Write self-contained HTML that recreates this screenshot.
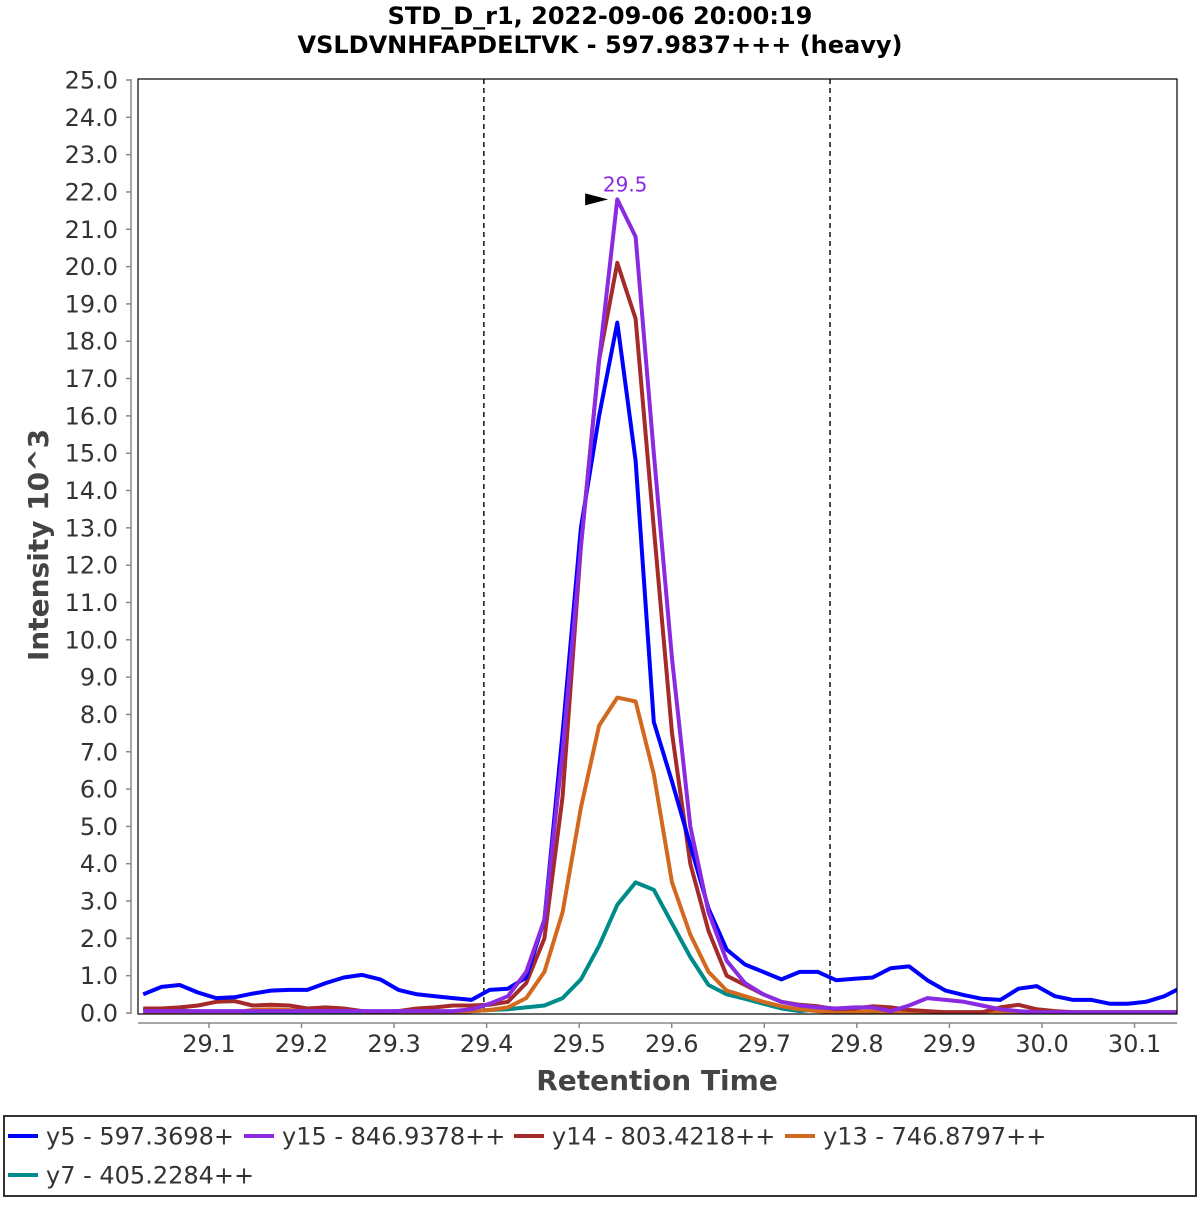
<!DOCTYPE html>
<html><head><meta charset="utf-8"><style>
body{margin:0;background:#fff;}
svg text{font-family:"DejaVu Sans","Liberation Sans",sans-serif;}
</style></head><body>
<svg id="chart" width="1200" height="1200" xmlns="http://www.w3.org/2000/svg">
<rect width="1200" height="1200" fill="#fff"/>
<text x="600" y="24" text-anchor="middle" font-size="24" font-weight="bold" fill="#000">STD_D_r1, 2022-09-06 20:00:19</text>
<text x="600" y="53" text-anchor="middle" font-size="24" font-weight="bold" fill="#000">VSLDVNHFAPDELTVK - 597.9837+++ (heavy)</text>
<g id="grid"></g>
<g id="series" clip-path="url(#clip)"></g>
<defs><clipPath id="clip"><rect x="138" y="70" width="1039" height="944"/></clipPath></defs>
<rect x="138" y="79" width="1039" height="935" fill="none" stroke="#000" stroke-width="1.2"/>
<g id="axes"></g>
<text transform="translate(48,545) rotate(-90)" text-anchor="middle" font-size="28" font-weight="bold" fill="#444">Intensity 10^3</text>
<text x="657" y="1090" text-anchor="middle" font-size="28" font-weight="bold" fill="#444">Retention Time</text>
<g id="legend">
<rect x="4" y="1116" width="1192" height="80" fill="#fff" stroke="#333" stroke-width="2"/>
</g>
</svg>
<script>
const t0 = 29.029;
const dt = 0.0197;
const xTicks = [29.1,29.2,29.3,29.4,29.5,29.6,29.7,29.8,29.9,30.0,30.1];
const yTicks = [0,1,2,3,4,5,6,7,8,9,10,11,12,13,14,15,16,17,18,19,20,21,22,23,24,25];
const boundaries = [29.397, 29.771];
const peakTime = 29.541;
const peakValue = 21.8;
const peakLabel = "29.5";
const y5 = [0.5,0.7,0.75,0.55,0.4,0.42,0.52,0.6,0.62,0.62,0.8,0.95,1.02,0.9,0.62,0.5,0.45,0.4,0.35,0.62,0.65,0.95,2.5,7.5,13.0,16.0,18.5,14.8,7.8,6.2,4.5,2.8,1.7,1.3,1.1,0.9,1.1,1.1,0.88,0.92,0.95,1.2,1.25,0.88,0.6,0.48,0.38,0.35,0.65,0.72,0.45,0.35,0.35,0.25,0.25,0.3,0.45,0.7];
const y15 = [0.05,0.05,0.05,0.05,0.05,0.05,0.05,0.05,0.05,0.05,0.05,0.05,0.05,0.05,0.05,0.05,0.05,0.05,0.1,0.25,0.45,1.1,2.5,7.0,12.5,17.5,21.8,20.8,15.0,9.5,5.0,2.7,1.4,0.8,0.5,0.3,0.2,0.15,0.12,0.15,0.15,0.05,0.2,0.4,0.35,0.3,0.2,0.1,0.05,0.02,0.02,0.02,0.02,0.02,0.02,0.02,0.02,0.02];
const y14 = [0.12,0.12,0.15,0.2,0.3,0.32,0.2,0.22,0.2,0.12,0.15,0.12,0.05,0.03,0.05,0.12,0.15,0.2,0.2,0.22,0.3,0.8,2.0,5.8,12.5,17.5,20.1,18.6,13.0,7.5,4.0,2.2,1.0,0.75,0.5,0.3,0.22,0.18,0.1,0.12,0.18,0.15,0.08,0.05,0.02,0.02,0.02,0.15,0.22,0.1,0.05,0.02,0.02,0.02,0.02,0.02,0.02,0.02];
const y13 = [0.02,0.02,0.02,0.02,0.02,0.02,0.08,0.1,0.08,0.05,0.05,0.08,0.05,0.02,0.02,0.02,0.02,0.02,0.05,0.08,0.15,0.4,1.1,2.7,5.5,7.7,8.45,8.35,6.4,3.5,2.1,1.1,0.6,0.45,0.3,0.18,0.1,0.05,0.02,0.02,0.05,0.02,0.02,0.02,0.02,0.02,0.02,0.02,0.02,0.02,0.02,0.02,0.02,0.02,0.02,0.02,0.02,0.02];
const y7 = [0.08,0.12,0.08,0.02,0.02,0.02,0.02,0.02,0.02,0.02,0.02,0.02,0.02,0.02,0.02,0.02,0.02,0.02,0.05,0.08,0.1,0.15,0.2,0.4,0.9,1.8,2.9,3.5,3.3,2.4,1.5,0.75,0.5,0.38,0.25,0.12,0.05,0.1,0.12,0.02,0.02,0.02,0.02,0.02,0.02,0.02,0.02,0.02,0.02,0.02,0.02,0.02,0.02,0.02,0.02,0.02,0.02,0.02];
const seriesNames = ["y5 - 597.3698+","y15 - 846.9378++","y14 - 803.4218++","y13 - 746.8797++","y7 - 405.2284++"];
const seriesColors = ["#0000ff","#8a2be2","#a52a2a","#d2691e","#008b8b"];

const NS = "http://www.w3.org/2000/svg";
function X(t){ return 116.4 + (t - 29.0) * 925.6; }
function Y(v){ return 1013 - v * 37.32; }
function mk(tag, attrs, parent){ const e=document.createElementNS(NS,tag); for(const k in attrs) e.setAttribute(k,attrs[k]); parent.appendChild(e); return e; }

const axes = document.getElementById('axes');
const grid = document.getElementById('grid');
mk('line',{x1:131,y1:79,x2:131,y2:1014,stroke:'#888','stroke-width':1.5},axes);
yTicks.forEach(v=>{
  const y=Y(v);
  const tk=mk('line',{x1:126,y1:y,x2:131,y2:y,stroke:'#888','stroke-width':1.5},axes);
  
  
  const tx=mk('text',{x:118,y:y+8.5,'text-anchor':'end','font-size':24,fill:'#333'},axes);
  tx.textContent=v.toFixed(1);
  
  
});
mk('line',{x1:138,y1:1023,x2:1177,y2:1023,stroke:'#888','stroke-width':1.5},axes);
xTicks.forEach(t=>{
  const x=X(t);
  const tk=mk('line',{x1:x,y1:1023,x2:x,y2:1028,stroke:'#888','stroke-width':1.5},axes);
  
  
  const tx=mk('text',{x:x,y:1052,'text-anchor':'middle','font-size':24,fill:'#333'},axes);
  tx.textContent=t.toFixed(1);
  
  
});
boundaries.forEach(t=>{
  const l=mk('line',{x1:X(t),y1:79,x2:X(t),y2:1014,stroke:'#222','stroke-width':1.6,'stroke-dasharray':'5,4'},grid);
  
  
});
const sg=document.getElementById('series');
const allSeries=[y5,y15,y14,y13,y7];
const order=[4,3,2,0,1];
order.forEach(si=>{
  const d=allSeries[si].map((v,i)=>(i?'L':'M')+X(t0+i*dt).toFixed(1)+','+Y(v).toFixed(1)).join(' ');
  const p=mk('path',{d:d,fill:'none',stroke:seriesColors[si],'stroke-width':4,'stroke-linejoin':'round'},sg);
  
  
});
const svg=document.getElementById('chart');
const px=X(peakTime), py=Y(peakValue);
const arrow=mk('polygon',{points:(px-32)+','+(py-6)+' '+(px-9)+','+py+' '+(px-32)+','+(py+6),fill:'#000'},svg);


const pl=mk('text',{x:px+8,y:py-8,'text-anchor':'middle','font-size':20,fill:'#8a2be2'},svg);
pl.textContent=peakLabel;


const lg=document.getElementById('legend');
const pos=[[8,1136],[244,1136],[514,1136],[785,1136],[8,1175]];
seriesNames.forEach((n,i)=>{
  const [x,y]=pos[i];
  const g=mk('g',{},lg);
  
  
  mk('line',{x1:x,y1:y,x2:x+30,y2:y,stroke:seriesColors[i],'stroke-width':4},g);
  const t=mk('text',{x:x+38,y:y+8.5,'font-size':24,fill:'#333'},g);
  t.textContent=n;
});
</script>
</body></html>
